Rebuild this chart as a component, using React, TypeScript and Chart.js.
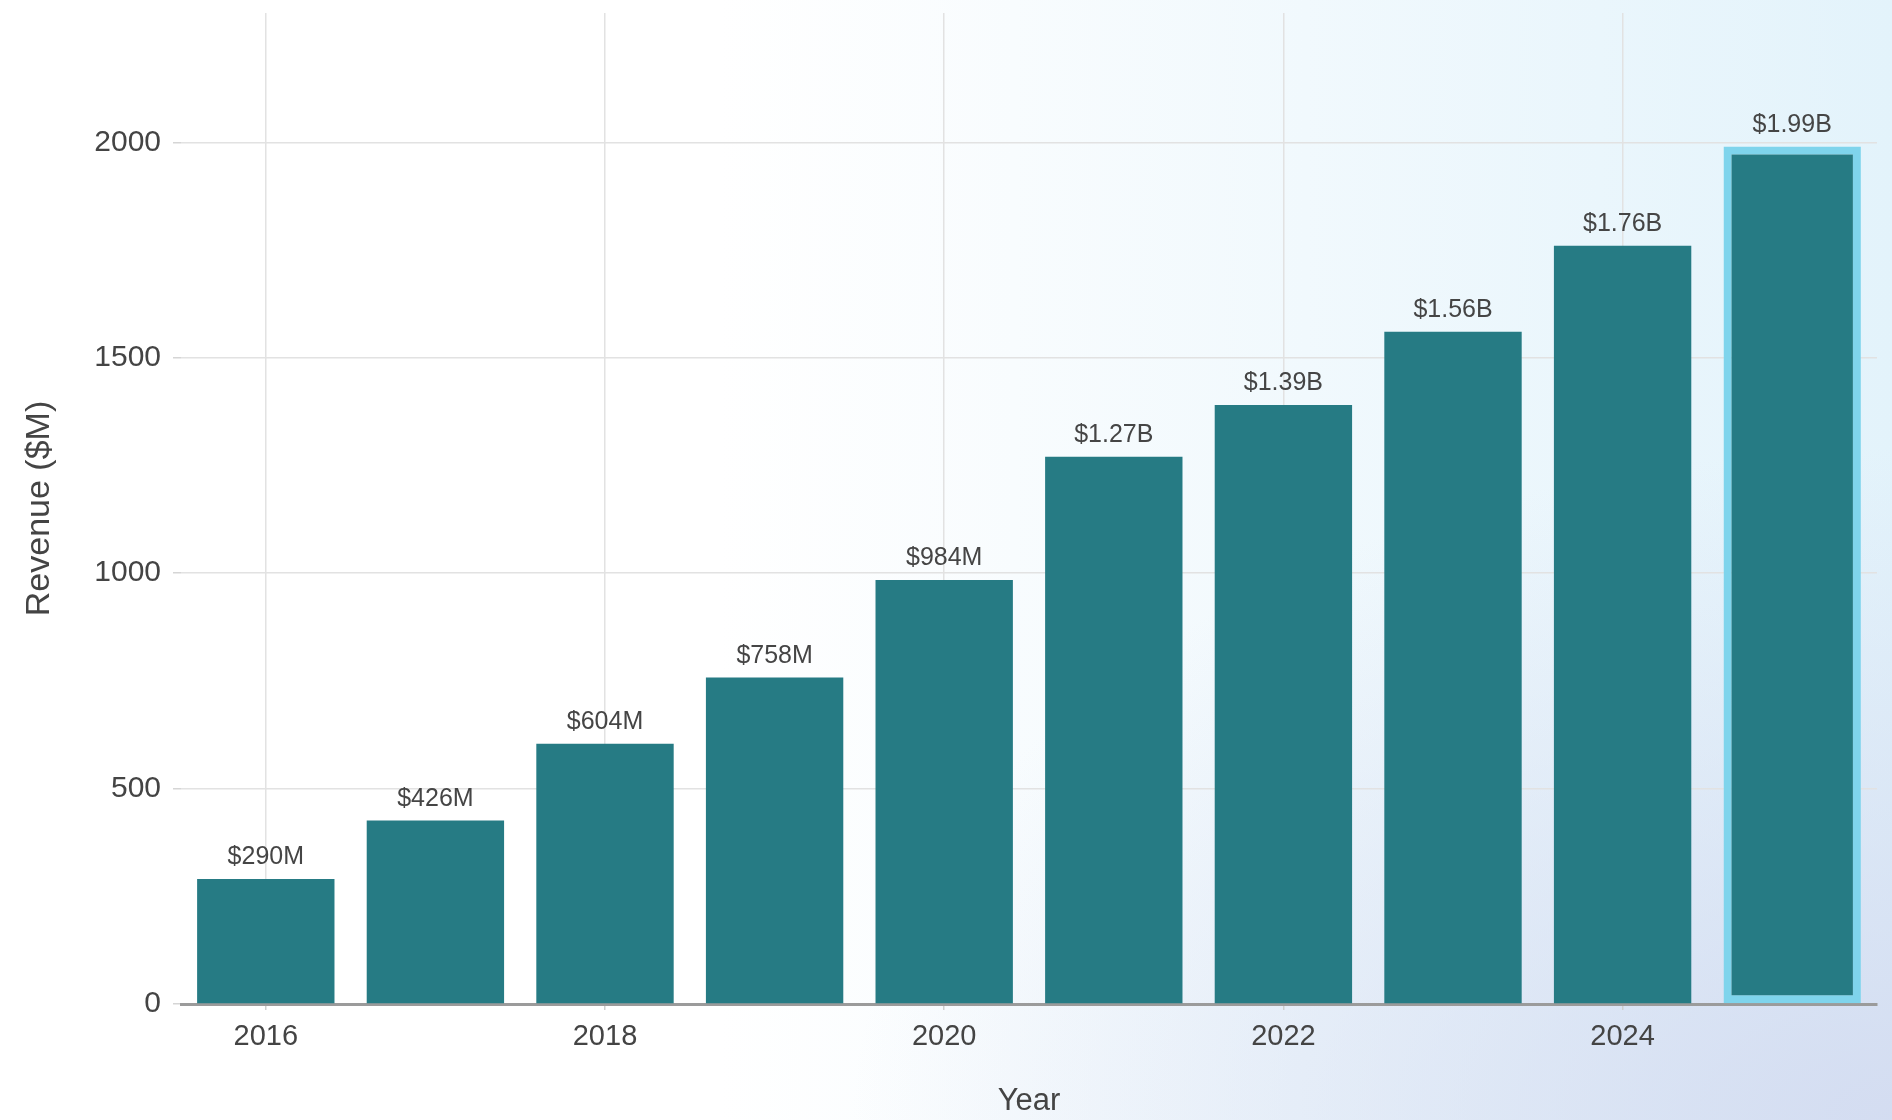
import React, { useEffect, useRef } from "react";
import { Chart, registerables } from "chart.js";

Chart.register(...registerables);

const years = ["2016", "2017", "2018", "2019", "2020", "2021", "2022", "2023", "2024", "2025"];
const revenue = [290, 426, 604, 758, 984, 1270, 1390, 1560, 1760, 1990];
const valueLabels = ["$290M", "$426M", "$604M", "$758M", "$984M", "$1.27B", "$1.39B", "$1.56B", "$1.76B", "$1.99B"];
const yTicks = [0, 500, 1000, 1500, 2000];

const FONT = "'Liberation Sans', Arial, Helvetica, sans-serif";

const labelPlugin = {
  id: "valueLabels",
  afterDatasetsDraw(chart: any) {
    const ctx = chart.ctx;
    const meta = chart.getDatasetMeta(0);
    ctx.save();
    ctx.font = `25px ${FONT}`;
    ctx.fillStyle = "#454545";
    ctx.textAlign = "center";
    ctx.textBaseline = "bottom";
    meta.data.forEach((bar: any, i: number) => {
      ctx.fillText(valueLabels[i], bar.x, bar.y - 9);
    });
    ctx.restore();
  },
};

export default function App() {
  const ref = useRef<HTMLCanvasElement | null>(null);

  useEffect(() => {
    document.body.style.margin = "0";
    if (!ref.current) return;
    const last = years.length - 1;
    const chart = new Chart(ref.current, {
      type: "bar",
      data: {
        labels: years,
        datasets: [
          {
            data: revenue,
            backgroundColor: "#267b84",
            borderColor: revenue.map((_, i) => (i === last ? "#7fd4ec" : "rgba(0,0,0,0)")),
            borderWidth: revenue.map((_, i) => (i === last ? 8 : 0)),
            borderSkipped: false,
            barPercentage: 0.81,
            categoryPercentage: 1,
          },
        ],
      },
      options: {
        animation: false,
        responsive: false,
        maintainAspectRatio: false,
        layout: { padding: { top: 13, right: 15, left: 0, bottom: 0 } },
        plugins: { legend: { display: false }, tooltip: { enabled: false } },
        scales: {
          x: {
            grid: {
              offset: false,
              color: "#e2e2e2",
              lineWidth: 1.5,
              tickLength: 6,
              tickColor: "#cfcfcf",
            },
            border: { display: true, color: "#9b9b9b", width: 3 },
            ticks: {
              autoSkip: true,
              maxTicksLimit: 5,
              maxRotation: 0,
              color: "#444444",
              font: { family: FONT, size: 29 },
              padding: 10,
            },
            title: {
              display: true,
              text: "Year",
              color: "#444444",
              font: { family: FONT, size: 31 },
              padding: { top: 0, bottom: 0 },
            },
            afterFit(scale: any) {
              scale.height = 116;
              scale.paddingLeft = 0;
              scale.paddingRight = 0;
            },
          },
          y: {
            min: 0,
            max: 2300,
            afterBuildTicks(scale: any) {
              scale.ticks = yTicks.map((v) => ({ value: v }));
            },
            grid: {
              color: "#e2e2e2",
              lineWidth: 1.5,
              tickLength: 8,
              tickColor: "#d5d5d5",
            },
            border: { display: false },
            ticks: {
              color: "#444444",
              font: { family: FONT, size: 30 },
              padding: 12,
              callback: (v: any) => String(v),
            },
            title: {
              display: true,
              text: "Revenue ($M)",
              color: "#444444",
              font: { family: FONT, size: 34 },
              padding: { top: 19, bottom: 0 },
            },
            afterFit(scale: any) {
              scale.width = 181;
              scale.paddingTop = 0;
              scale.paddingBottom = 0;
            },
          },
        },
      },
      plugins: [labelPlugin],
    });
    return () => chart.destroy();
  }, []);

  return (
    <div
      style={{
        width: 1892,
        height: 1120,
        background:
          "radial-gradient(ellipse 55% 60% at 100% 100%, rgba(210,218,240,0.9) 0%, rgba(210,218,240,0) 100%), linear-gradient(90deg, #ffffff 0%, #ffffff 38%, #e3f3fb 100%)",
      }}
    >
      <canvas ref={ref} width={1892} height={1120} style={{ display: "block" }} />
    </div>
  );
}
